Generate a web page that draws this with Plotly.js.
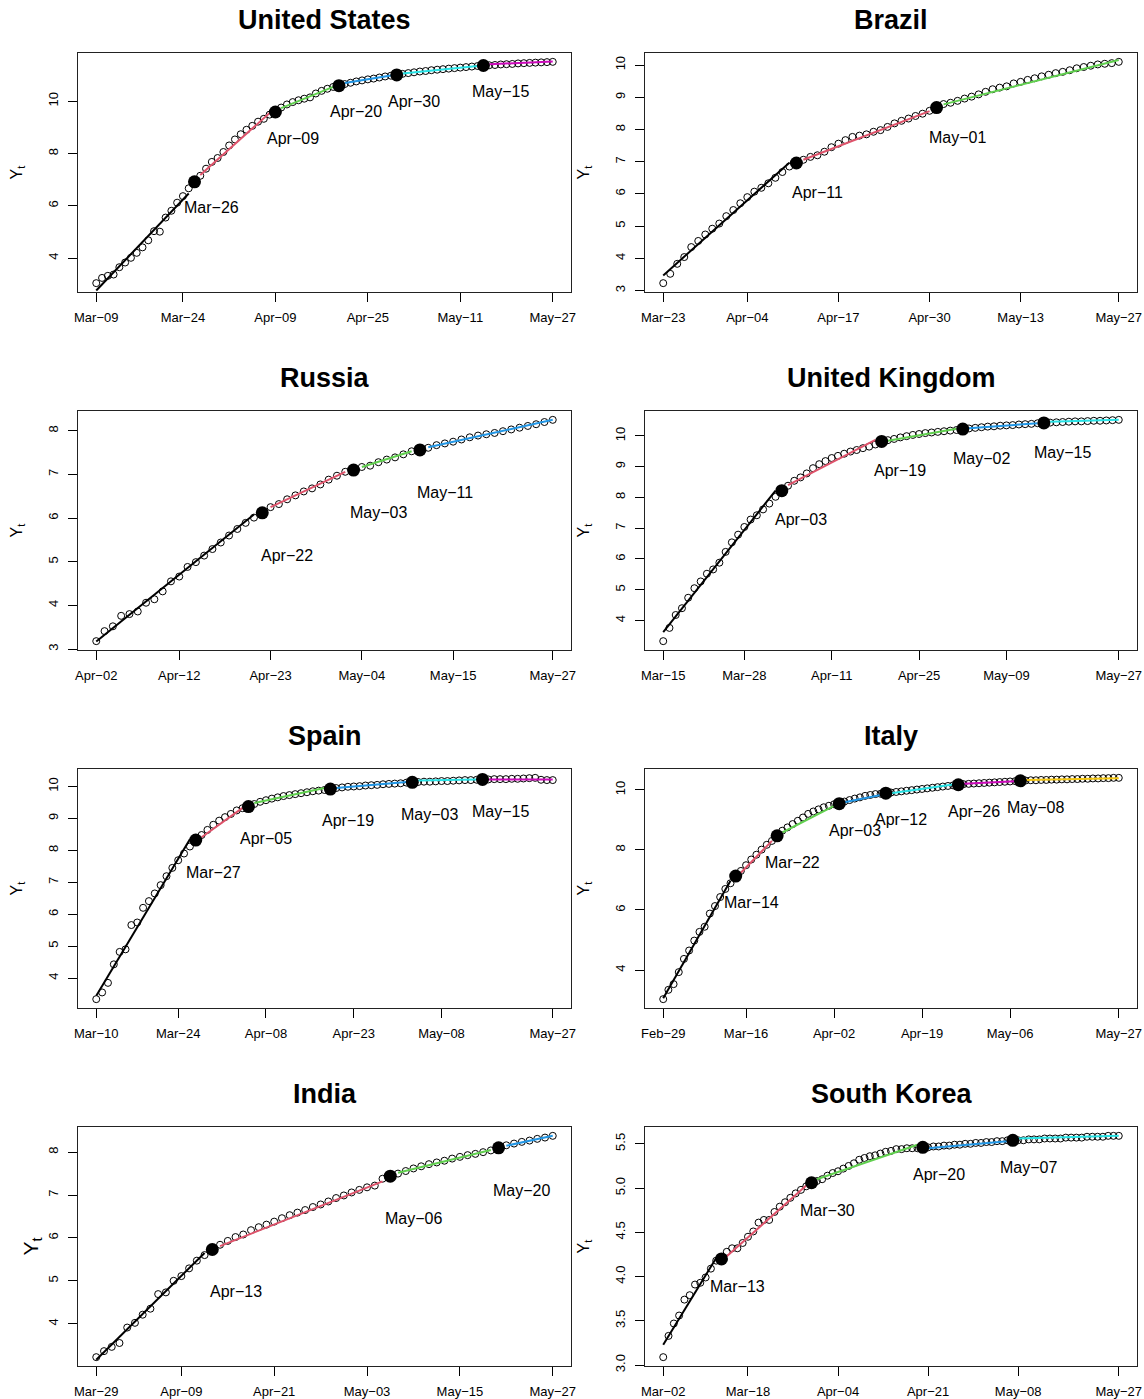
<!DOCTYPE html>
<html><head><meta charset="utf-8">
<script src="https://cdn.plot.ly/plotly-3.0.1.min.js"></script>
<style>html,body{margin:0;padding:0;background:#fff}</style>
</head><body><div id="chart" style="width:1144px;height:1399px"></div>
<script>
// ---------------- DATA ----------------
const countries = ['United States','Brazil','Russia','United Kingdom','Spain','Italy','India','South Korea'];
const startDates = ['Mar−09','Mar−23','Apr−02','Mar−15','Mar−10','Feb−29','Mar−29','Mar−02'];

const usY = [3.04,3.24,3.32,3.37,3.65,3.83,4.01,4.20,4.41,4.68,5.03,5.01,5.55,5.81,6.12,6.37,6.67,6.92,7.15,7.42,7.68,7.83,8.06,8.31,8.54,8.74,8.91,9.06,9.22,9.33,9.49,9.59,9.76,9.88,9.97,10.04,10.10,10.15,10.30,10.40,10.48,10.55,10.60,10.66,10.71,10.76,10.80,10.84,10.87,10.91,10.95,10.98,11.01,11.05,11.08,11.11,11.14,11.16,11.19,11.21,11.23,11.25,11.27,11.29,11.31,11.33,11.35,11.37,11.38,11.39,11.41,11.42,11.43,11.45,11.46,11.47,11.48,11.49,11.50,11.51];
const brY = [3.23,3.52,3.83,4.04,4.35,4.54,4.74,4.92,5.08,5.31,5.50,5.71,5.90,6.07,6.19,6.33,6.50,6.68,6.85,6.96,7.06,7.15,7.20,7.31,7.45,7.56,7.67,7.77,7.81,7.85,7.93,7.98,8.08,8.19,8.27,8.34,8.42,8.49,8.58,8.68,8.79,8.83,8.89,8.96,9.02,9.09,9.17,9.25,9.30,9.34,9.43,9.48,9.54,9.59,9.65,9.70,9.75,9.79,9.84,9.90,9.94,9.98,10.02,10.04,10.06,10.10];
const ruY = [3.18,3.41,3.52,3.76,3.80,3.86,4.06,4.14,4.32,4.55,4.66,4.88,4.99,5.14,5.29,5.44,5.60,5.75,5.89,6.01,6.12,6.25,6.32,6.43,6.52,6.61,6.68,6.77,6.88,6.97,7.06,7.10,7.17,7.20,7.28,7.34,7.39,7.46,7.53,7.56,7.61,7.67,7.71,7.75,7.80,7.85,7.89,7.92,7.95,7.99,8.03,8.07,8.11,8.15,8.20,8.25];
const ukY = [3.33,3.76,4.18,4.40,4.74,5.05,5.27,5.52,5.66,5.88,6.23,6.54,6.79,7.04,7.28,7.42,7.61,7.80,8.02,8.22,8.38,8.54,8.65,8.78,8.95,9.08,9.18,9.28,9.35,9.42,9.49,9.54,9.60,9.65,9.72,9.82,9.86,9.90,9.95,9.99,10.03,10.06,10.09,10.11,10.13,10.15,10.17,10.19,10.22,10.24,10.26,10.28,10.30,10.31,10.33,10.34,10.35,10.37,10.38,10.39,10.41,10.42,10.43,10.44,10.45,10.46,10.47,10.47,10.48,10.49,10.49,10.50,10.51,10.52];
const esY = [3.34,3.55,3.85,4.43,4.82,4.90,5.66,5.74,6.20,6.41,6.65,6.91,7.19,7.45,7.69,7.90,8.12,8.32,8.48,8.64,8.80,8.93,9.04,9.14,9.25,9.32,9.37,9.45,9.52,9.57,9.62,9.66,9.70,9.73,9.76,9.79,9.82,9.85,9.87,9.89,9.92,9.95,9.97,9.99,10.00,10.01,10.03,10.04,10.05,10.07,10.08,10.09,10.10,10.12,10.13,10.14,10.15,10.15,10.16,10.17,10.17,10.18,10.19,10.20,10.20,10.21,10.22,10.22,10.23,10.23,10.23,10.24,10.24,10.25,10.26,10.27,10.21,10.20,10.20];
const itY = [3.03,3.34,3.53,3.93,4.37,4.65,4.98,5.27,5.44,5.88,6.13,6.43,6.70,6.89,7.13,7.30,7.49,7.68,7.84,8.01,8.17,8.30,8.47,8.64,8.75,8.86,8.97,9.08,9.20,9.28,9.35,9.42,9.47,9.52,9.54,9.61,9.66,9.71,9.75,9.80,9.83,9.86,9.87,9.89,9.91,9.93,9.95,9.97,9.99,10.01,10.03,10.05,10.07,10.09,10.11,10.13,10.15,10.17,10.19,10.20,10.21,10.22,10.23,10.24,10.25,10.26,10.27,10.28,10.29,10.30,10.31,10.32,10.32,10.33,10.33,10.34,10.34,10.35,10.35,10.36,10.36,10.37,10.37,10.38,10.38,10.39,10.39,10.40,10.40];
const inY = [3.22,3.36,3.46,3.55,3.91,4.02,4.21,4.35,4.69,4.73,5.00,5.11,5.29,5.47,5.60,5.73,5.84,5.93,6.02,6.08,6.18,6.25,6.31,6.38,6.46,6.53,6.59,6.65,6.72,6.78,6.85,6.93,6.99,7.06,7.12,7.18,7.22,7.38,7.44,7.50,7.56,7.62,7.67,7.72,7.76,7.80,7.85,7.89,7.93,7.96,8.00,8.04,8.10,8.16,8.20,8.24,8.27,8.31,8.34,8.38];
const krY = [3.09,3.33,3.47,3.56,3.74,3.79,3.91,3.93,3.99,4.09,4.18,4.20,4.28,4.32,4.32,4.38,4.45,4.51,4.61,4.64,4.64,4.73,4.79,4.84,4.89,4.94,4.98,5.02,5.06,5.08,5.10,5.14,5.17,5.19,5.22,5.25,5.28,5.32,5.34,5.36,5.37,5.39,5.41,5.42,5.44,5.44,5.45,5.45,5.45,5.46,5.46,5.47,5.47,5.48,5.48,5.49,5.49,5.50,5.50,5.51,5.51,5.52,5.52,5.53,5.53,5.54,5.54,5.54,5.54,5.55,5.55,5.55,5.56,5.56,5.56,5.56,5.57,5.57,5.57,5.57,5.58,5.58,5.58,5.58,5.59,5.59,5.59];

// breakpoints (date labels)
const usBreaks = ['Mar−26','Apr−09','Apr−20','Apr−30','May−15'];
const brBreaks = ['Apr−11','May−01'];
const ruBreaks = ['Apr−22','May−03','May−11'];
const ukBreaks = ['Apr−03','Apr−19','May−02','May−15'];
const esBreaks = ['Mar−27','Apr−05','Apr−19','May−03','May−15'];
const itBreaks = ['Mar−14','Mar−22','Apr−03','Apr−12','Apr−26','May−08'];
const inBreaks = ['Apr−13','May−06','May−20'];
const krBreaks = ['Mar−13','Mar−30','Apr−20','May−07'];

// fitted segment values at the start / end of each segment
const usFitStart = [2.76,7.18,9.74,10.70,11.06,11.42];
const usFitEnd   = [6.47,9.55,10.55,10.99,11.35,11.52];
const brFitStart = [3.47,7.06,8.78];
const brFitEnd   = [6.97,8.57,10.16];
const ruFitStart = [3.17,6.25,7.17,7.62];
const ruFitEnd   = [6.08,7.06,7.53,8.25];
const ukFitStart = [3.62,8.40,9.84,10.25,10.46];
const ukFitEnd   = [8.22,9.87,10.23,10.41,10.52];
const esFitStart = [3.45,8.41,9.48,9.95,10.19,10.22];
const esFitEnd   = [8.35,9.33,9.95,10.14,10.22,10.22];
const itFitStart = [3.06,7.24,8.58,9.59,9.89,10.20,10.33];
const itFitEnd   = [6.97,8.30,9.47,9.83,10.18,10.29,10.39];
const inFitStart = [3.16,5.81,7.52,8.15];
const inFitEnd   = [5.65,7.32,8.05,8.38];
const krFitStart = [3.23,4.23,5.10,5.45,5.56];
const krFitEnd   = [4.21,5.03,5.49,5.53,5.59];

// x tick labels
const usTicks = ['Mar−09','Mar−24','Apr−09','Apr−25','May−11','May−27'];
const brTicks = ['Mar−23','Apr−04','Apr−17','Apr−30','May−13','May−27'];
const ruTicks = ['Apr−02','Apr−12','Apr−23','May−04','May−15','May−27'];
const ukTicks = ['Mar−15','Mar−28','Apr−11','Apr−25','May−09','May−27'];
const esTicks = ['Mar−10','Mar−24','Apr−08','Apr−23','May−08','May−27'];
const itTicks = ['Feb−29','Mar−16','Apr−02','Apr−19','May−06','May−27'];
const inTicks = ['Mar−29','Apr−09','Apr−21','May−03','May−15','May−27'];
const krTicks = ['Mar−02','Mar−18','Apr−04','Apr−21','May−08','May−27'];

// y tick values
const usYTicks = [4,6,8,10];
const brYTicks = [3,4,5,6,7,8,9,10];
const ruYTicks = [3,4,5,6,7,8];
const ukYTicks = [4,5,6,7,8,9,10];
const esYTicks = [4,5,6,7,8,9,10];
const itYTicks = [4,6,8,10];
const inYTicks = [4,5,6,7,8];
const krYTicks = [3.0,3.5,4.0,4.5,5.0,5.5];

// ---------------- STYLE ----------------
const palette = ['#000000','#DF536B','#61D04F','#2297E6','#28E2E5','#CD0BBC','#F5C710'];
const W = 1144, H = 1399;
const colX = [[78,571],[645,1137]];
const rowY = [[53,292],[411,650],[769,1008],[1127,1366]];
const labelDrop = [1.0,0.93,0.98,0.95,1.0,0.88,0.99,0.31]; // y offset of breakpoint labels (data units)
const labelShiftDays = 3;
const FONT = 'Liberation Sans, Arial, Helvetica, sans-serif';

const panels = [
  {y:usY, br:usBreaks, fs:usFitStart, fe:usFitEnd, xt:usTicks, yt:usYTicks},
  {y:brY, br:brBreaks, fs:brFitStart, fe:brFitEnd, xt:brTicks, yt:brYTicks},
  {y:ruY, br:ruBreaks, fs:ruFitStart, fe:ruFitEnd, xt:ruTicks, yt:ruYTicks},
  {y:ukY, br:ukBreaks, fs:ukFitStart, fe:ukFitEnd, xt:ukTicks, yt:ukYTicks},
  {y:esY, br:esBreaks, fs:esFitStart, fe:esFitEnd, xt:esTicks, yt:esYTicks},
  {y:itY, br:itBreaks, fs:itFitStart, fe:itFitEnd, xt:itTicks, yt:itYTicks},
  {y:inY, br:inBreaks, fs:inFitStart, fe:inFitEnd, xt:inTicks, yt:inYTicks},
  {y:krY, br:krBreaks, fs:krFitStart, fe:krFitEnd, xt:krTicks, yt:krYTicks}
];

const MONTHS = {Jan:0,Feb:1,Mar:2,Apr:3,May:4,Jun:5};
const DAY = 86400000;
function labelToMs(s){ const p = s.split('−'); return Date.UTC(2020, MONTHS[p[0]], +p[1]); }
function msToStr(ms){ return new Date(ms).toISOString().replace('T',' ').replace('Z',''); }

const traces = [], annotations = [], layout = {
  width: W, height: H, margin:{l:0,r:0,t:0,b:0},
  paper_bgcolor:'#fff', plot_bgcolor:'#fff', showlegend:false,
  font:{family:FONT, color:'#000'}
};

panels.forEach((p, i) => {
  const col = i % 2, row = Math.floor(i / 2);
  const xa = 'x' + (i+1), ya = 'y' + (i+1);
  const xaKey = 'xaxis' + (i+1), yaKey = 'yaxis' + (i+1);
  const n = p.y.length;
  const t0 = labelToMs(startDates[i]);
  const xs = p.y.map((_, k) => msToStr(t0 + k*DAY));
  const bpIdx = p.br.map(b => Math.round((labelToMs(b) - t0)/DAY));

  // data points
  traces.push({x: xs, y: p.y, xaxis: xa, yaxis: ya, type:'scatter', mode:'markers',
    marker:{symbol:'circle-open', size:7, color:'#000', line:{width:1, color:'#000'}}, hoverinfo:'skip'});
  // fitted segments
  for (let k = 0; k <= p.br.length; k++) {
    const s = k === 0 ? 0 : bpIdx[k-1] + 1;
    const e = k === p.br.length ? n - 1 : bpIdx[k] - 1;
    traces.push({x:[xs[s], xs[e]], y:[p.fs[k], p.fe[k]], xaxis: xa, yaxis: ya, type:'scatter', mode:'lines',
      line:{color: palette[k % palette.length], width:2}, hoverinfo:'skip'});
  }
  // breakpoints
  traces.push({x: bpIdx.map(k => xs[k]), y: bpIdx.map(k => p.y[k]), xaxis: xa, yaxis: ya, type:'scatter', mode:'markers',
    marker:{symbol:'circle', size:13, color:'#000'}, hoverinfo:'skip'});
  bpIdx.forEach((k, j) => {
    annotations.push({xref: xa, yref: ya, x: msToStr(t0 + (k + labelShiftDays)*DAY), y: p.y[k] - labelDrop[i],
      text: p.br[j], showarrow:false, xanchor:'center', yanchor:'middle', font:{size:16, family:FONT, color:'#000'}});
  });

  // ranges (R style 4% extension)
  const ymin = Math.min(...p.y), ymax = Math.max(...p.y), r = ymax - ymin;
  const xpad = 0.04 * (n - 1) * DAY;
  const [px0, px1] = colX[col], [py0, py1] = rowY[row];

  layout[xaKey] = {
    type:'date', domain:[px0/W, px1/W], anchor: ya,
    range:[msToStr(t0 - xpad), msToStr(t0 + (n-1)*DAY + xpad)],
    tickmode:'array', tickvals: p.xt.map(l => msToStr(labelToMs(l))), ticktext: p.xt,
    ticks:'outside', ticklen:9, tickwidth:1, tickcolor:'#000',
    showline:true, mirror:true, linecolor:'#222', linewidth:1,
    showgrid:false, zeroline:false, tickfont:{size:13, family:FONT, color:'#000'},
    ticklabelstandoff:4, fixedrange:true
  };
  layout[yaKey] = {
    domain:[1 - py1/H, 1 - py0/H], anchor: xa,
    range:[ymin - 0.04*r, ymax + 0.04*r],
    tickmode:'array', tickvals: p.yt, ticktext: p.yt.map(v => i === 7 ? v.toFixed(1) : String(v)),
    tickangle:-90, ticks:'outside', ticklen:9, tickwidth:1, tickcolor:'#000',
    showline:true, mirror:true, linecolor:'#222', linewidth:1,
    showgrid:false, zeroline:false, tickfont:{size:13, family:FONT, color:'#000'},
    ticklabelstandoff:5, fixedrange:true
  };

  // panel title
  annotations.push({xref:'paper', yref:'paper', x:(px0+px1)/2/W, y:1 - (py0 - 33)/H,
    text:'<b>' + countries[i] + '</b>', showarrow:false, xanchor:'center', yanchor:'middle',
    font:{size:27, family:FONT, color:'#000'}});
  // y label
  const big = i === 6;
  annotations.push({xref:'paper', yref:'paper', x:(px0 - (big ? 47 : 61))/W, y:1 - (py0+py1)/2/H,
    text:'Y<sub>t</sub>', textangle:-90, showarrow:false, xanchor:'center', yanchor:'middle',
    font:{size: big ? 21 : 16, family:FONT, color:'#000'}});
});

layout.annotations = annotations;
Plotly.newPlot('chart', traces, layout, {staticPlot:true, displayModeBar:false});
</script>
</body></html>
